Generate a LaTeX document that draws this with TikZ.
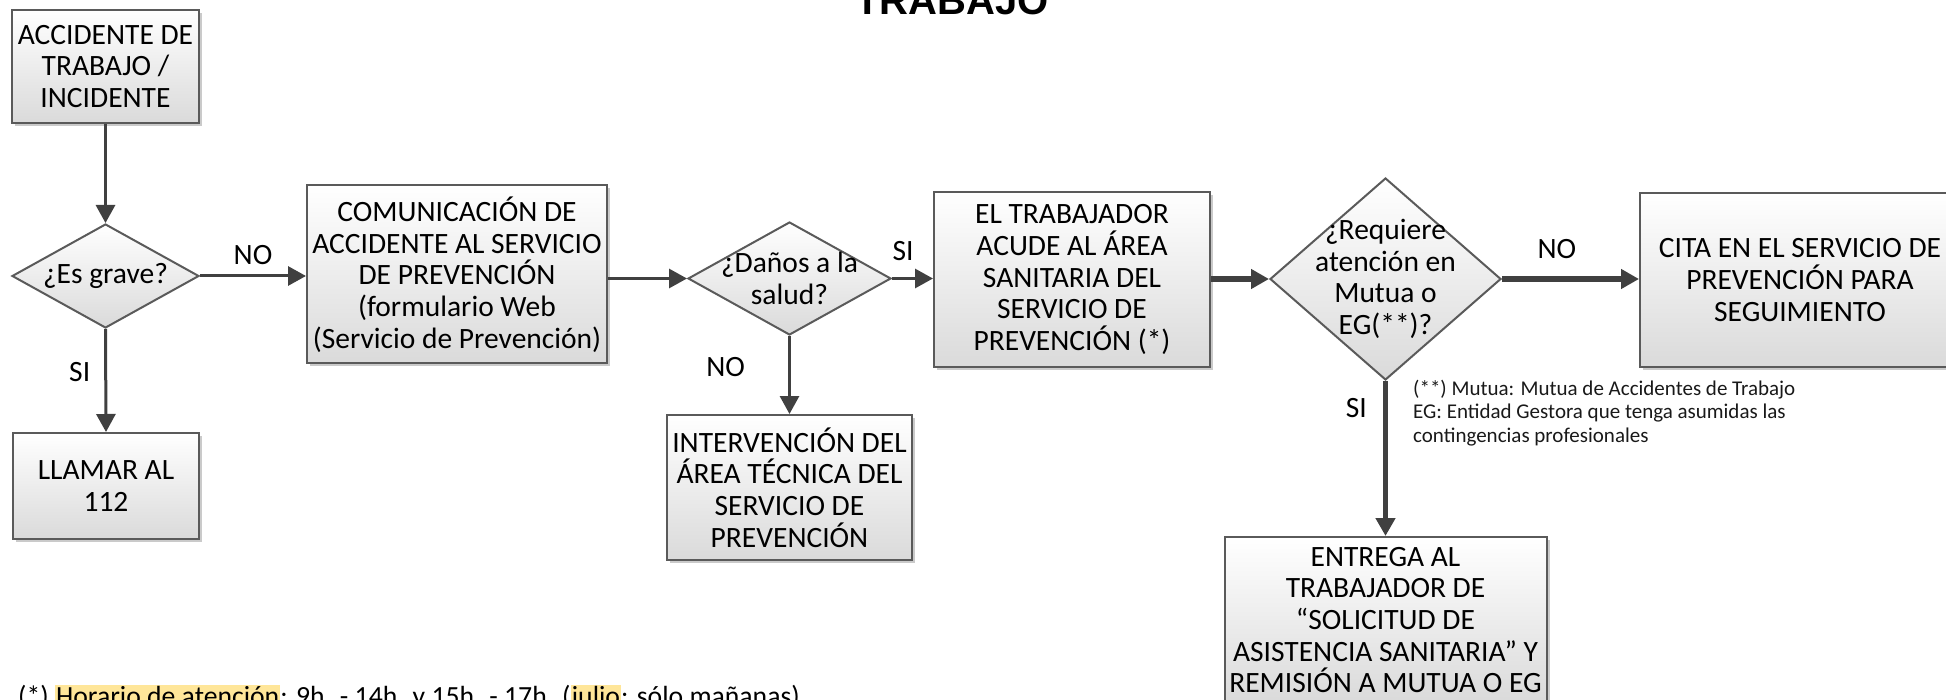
\documentclass[tikz,border=0pt]{standalone}
\usepackage{fontspec}
\setmainfont{Carlito}
\newfontfamily\titlefont{Liberation Sans}
\usetikzlibrary{arrows.meta}
\usetikzlibrary{shapes.geometric}
\usetikzlibrary{shadows}
\definecolor{flowgray}{HTML}{404040}
\definecolor{boxline}{HTML}{5A5A5A}
\definecolor{boxshade}{HTML}{DADADA}
\definecolor{hilite}{HTML}{FFE699}
\setlength{\fboxsep}{1pt}

\begin{document}
\begin{tikzpicture}[x=1pt, y=1pt,
  font=\fontsize{29.5}{31.7}\selectfont,
  box/.style={draw=boxline, line width=2pt, top color=white, bottom color=boxshade, align=center, inner sep=0pt,
    drop shadow={shadow xshift=3pt, shadow yshift=-3pt, fill=black!35, opacity=0.6}},
  decision/.style={diamond, draw=boxline, line width=2pt, top color=white, bottom color=boxshade, inner sep=0pt},
  dtext/.style={align=center, inner sep=0pt},
  flow/.style={draw=flowgray, line width=3pt, -{Triangle[length=18pt, width=19pt]}},
  heavyflow/.style={flow, line width=5.5pt},
  answer/.style={inner sep=0pt},
  note/.style={align=left, inner sep=0pt, text=black!90, font=\fontsize{21}{23.3}\selectfont}]
  \useasboundingbox (0,0) rectangle (1946,-700);
  \clip (0,0) rectangle (1946,-700);

  \node[anchor=base, font=\titlefont\bfseries\fontsize{40}{48}\selectfont] (titulo) at (952,-15) {TRABAJO};

  \node[box, minimum width=187pt, minimum height=113pt] (acc) at (105.5,-66.5) {ACCIDENTE DE\\TRABAJO /\\INCIDENTE};
  \node[decision, minimum width=187pt, minimum height=104pt, label={[dtext]center:¿Es grave?}] (grave) at (105.5,-276) {};
  \node[box, minimum width=186pt, minimum height=106pt] (llamar) at (106,-486) {LLAMAR AL\\112};
  \node[box, minimum width=300pt, minimum height=178pt] (comm) at (457,-274.5) {COMUNICACIÓN DE\\ACCIDENTE AL SERVICIO\\DE PREVENCIÓN\\(formulario Web\\(Servicio de Prevención)};
  \node[decision, minimum width=203pt, minimum height=113pt, label={[dtext]center:{¿Daños a la\\salud?}}] (danos) at (789.5,-278.5) {};
  \node[box, minimum width=245pt, minimum height=145pt] (interv) at (789.5,-487.5) {INTERVENCIÓN DEL\\ÁREA TÉCNICA DEL\\SERVICIO DE\\PREVENCIÓN};
  \node[box, minimum width=276pt, minimum height=175pt] (trab) at (1072,-279.5) {EL TRABAJADOR\\ACUDE AL ÁREA\\SANITARIA DEL\\SERVICIO DE\\PREVENCIÓN (*)};
  \node[decision, minimum width=231pt, minimum height=202pt, label={[dtext]center:{¿Requiere\\atención en\\Mutua o\\EG(**)?}}] (req) at (1385.5,-279) {};
  \node[box, minimum width=320pt, minimum height=174pt] (cita) at (1800,-280) {CITA EN EL SERVICIO DE\\PREVENCIÓN PARA\\SEGUIMIENTO};
  \node[box, minimum width=322pt, minimum height=166pt] (entrega) at (1385.5,-620) {ENTREGA AL\\TRABAJADOR DE\\“SOLICITUD DE\\ASISTENCIA SANITARIA” Y\\REMISIÓN A MUTUA O EG};

  \node[note, anchor=north west] (nota) at (1413,-380) {(**) Mutua: Mutua de Accidentes de Trabajo\\EG: Entidad Gestora que tenga asumidas las\\contingencias profesionales};
  \node[anchor=base west, inner sep=0pt, font=\fontsize{27.7}{31}\selectfont] (horario) at (18,-705) {(*) \colorbox{hilite}{Horario de atención}: 9h. - 14h. y 15h. - 17h. (\colorbox{hilite}{julio}: sólo mañanas)};

  \draw[flow] (acc.south) -- (grave.north);
  \draw[flow] (grave.south) -- node[answer, left=14pt, pos=0.42] (si1) {SI} (llamar.north);
  \draw[flow] (grave.east) -- node[answer, above=9.5pt] (no1) {NO} (grave.east -| comm.west);
  \draw[flow] (comm.east |- danos.west) -- (danos.west);
  \draw[flow] (danos.east) -- node[answer, above=16.5pt, pos=0.27] (si2) {SI} (danos.east -| trab.west);
  \draw[flow] (danos.south) -- node[answer, left=43pt, pos=0.4] (no2) {NO} (interv.north);
  \draw[heavyflow] (trab.east |- req.west) -- (req.west);
  \draw[heavyflow] (req.east) -- node[answer, above=17.5pt, pos=0.4] (no3) {NO} (req.east -| cita.west);
  \draw[heavyflow] (req.south) -- node[answer, left=16pt, pos=0.175] (si3) {SI} (entrega.north);
\end{tikzpicture}
\end{document}
